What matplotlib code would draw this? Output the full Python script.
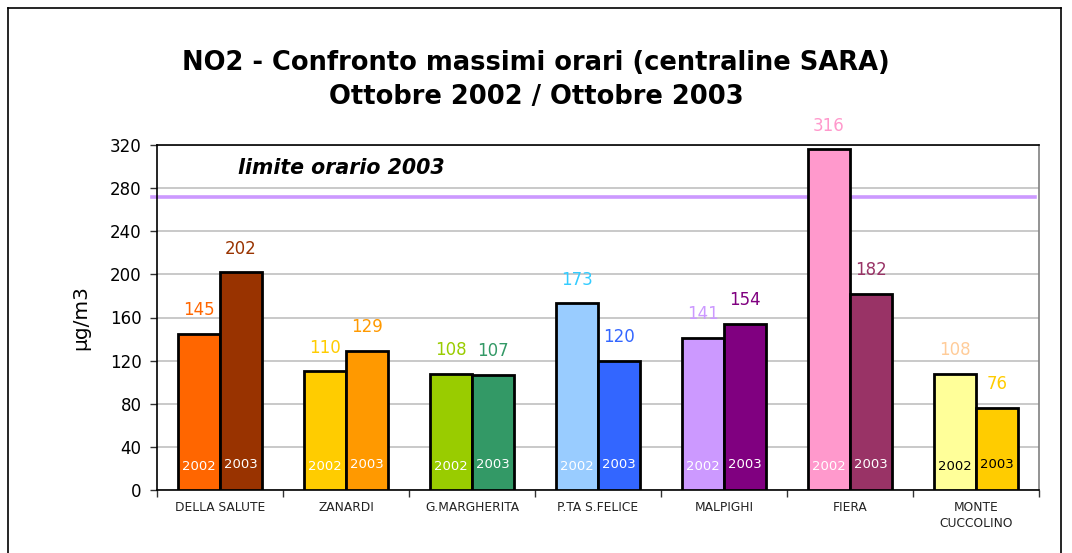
import matplotlib
matplotlib.use("Agg")
import matplotlib.pyplot as plt
import numpy as np
from matplotlib.lines import Line2D
import matplotlib.transforms as mtransforms

plt.rcParams['font.family'] = ['DejaVu Sans']

stations = ["DELLA SALUTE", "ZANARDI", "G.MARGHERITA", "P.TA S.FELICE",
            "MALPIGHI", "FIERA", "MONTE\nCUCCOLINO"]
values_2002 = [145, 110, 108, 173, 141, 316, 108]
values_2003 = [202, 129, 107, 120, 154, 182, 76]
limit_2003 = 272

colors_2002 = ["#FF6600", "#FFCC00", "#99CC00", "#99CCFF", "#CC99FF", "#FF99CC", "#FFFF99"]
colors_2003 = ["#993300", "#FF9900", "#339966", "#3366FF", "#800080", "#993366", "#FFCC00"]
label_colors_2002 = ["#FF6600", "#FFCC00", "#99CC00", "#33CCFF", "#CC99FF", "#FF99CC", "#FFCC99"]
label_colors_2003 = ["#993300", "#FF9900", "#339966", "#3366FF", "#800080", "#993366", "#FFCC00"]
inner_text_2002 = ["white"] * 6 + ["black"]
inner_text_2003 = ["white"] * 6 + ["black"]

fig = plt.figure(figsize=(10.72, 5.53), dpi=100)
ax = fig.add_axes([157/1072, 1-490/553, (1039-157)/1072, (490-145)/553])

x = np.arange(len(stations))
w = 0.335
ax.bar(x - w/2, values_2002, w, color=colors_2002, edgecolor="black", linewidth=2, zorder=3)
ax.bar(x + w/2, values_2003, w, color=colors_2003, edgecolor="black", linewidth=2, zorder=3)

ax.set_xlim(-0.5, len(stations) - 0.5)
ax.set_ylim(0, 320)
ax.set_yticks(np.arange(0, 321, 40))
ax.yaxis.grid(True, color="#C0C0C0", linewidth=1.2, zorder=0)
ax.set_axisbelow(True)

for i in range(len(stations)):
    ax.annotate(str(values_2002[i]), (x[i] - w/2, values_2002[i]), xytext=(0, 17),
                textcoords="offset points", ha="center", va="center",
                fontsize=12, color=label_colors_2002[i])
    ax.annotate(str(values_2003[i]), (x[i] + w/2, values_2003[i]), xytext=(0, 17),
                textcoords="offset points", ha="center", va="center",
                fontsize=12, color=label_colors_2003[i])
    ax.text(x[i] - w/2, 22, "2002", ha="center", va="center", fontsize=9.5,
            color=inner_text_2002[i], zorder=4)
    ax.text(x[i] + w/2, 24, "2003", ha="center", va="center", fontsize=9.5,
            color=inner_text_2003[i], zorder=4)

# limit line
trans = mtransforms.blended_transform_factory(ax.transAxes, ax.transData)
ax.plot([-0.006, 0.995], [limit_2003, limit_2003], color="#CC99FF", linewidth=2.6,
        transform=trans, clip_on=False, zorder=2)
ax.text(0.092, 299, "limite orario 2003", transform=trans, fontsize=14.8,
        fontweight="bold", fontstyle="italic", ha="left", va="center")

# x ticks: labels at centers, tick marks between groups
ax.set_xticks(x)
ax.set_xticklabels(stations, fontsize=8.8, color="#222222", linespacing=1.3)
ax.tick_params(axis="x", length=0, pad=8)
ax.set_xticks(np.arange(-0.5, len(stations), 1.0), minor=True)
ax.tick_params(axis="x", which="minor", length=5, width=1, color="#333333", direction="out")
ax.tick_params(axis="y", labelsize=12, length=5, width=1, color="#333333", pad=6)

for s in ["left", "bottom", "top"]:
    ax.spines[s].set_color("black")
    ax.spines[s].set_linewidth(1.2)
ax.spines["right"].set_color("#808080")
ax.spines["right"].set_linewidth(1.2)

ax.set_ylabel("µg/m3", fontsize=14.5, labelpad=14)

fig.text(536/1072, 1-63/553, "NO2 - Confronto massimi orari (centraline SARA)",
         ha="center", va="center", fontsize=18.5, fontweight="bold")
fig.text(536/1072, 1-97/553, "Ottobre 2002 / Ottobre 2003",
         ha="center", va="center", fontsize=18.5, fontweight="bold")

# outer chart frame
fx0, fx1, fy = 8/1072, 1061/1072, 1-8/553
fig.add_artist(Line2D([fx0, fx1], [fy, fy], color="black", linewidth=1.2, transform=fig.transFigure))
fig.add_artist(Line2D([fx0, fx0], [0, fy], color="black", linewidth=1.2, transform=fig.transFigure))
fig.add_artist(Line2D([fx1, fx1], [0, fy], color="black", linewidth=1.2, transform=fig.transFigure))

fig.savefig("out.png", dpi=100, facecolor="white")
